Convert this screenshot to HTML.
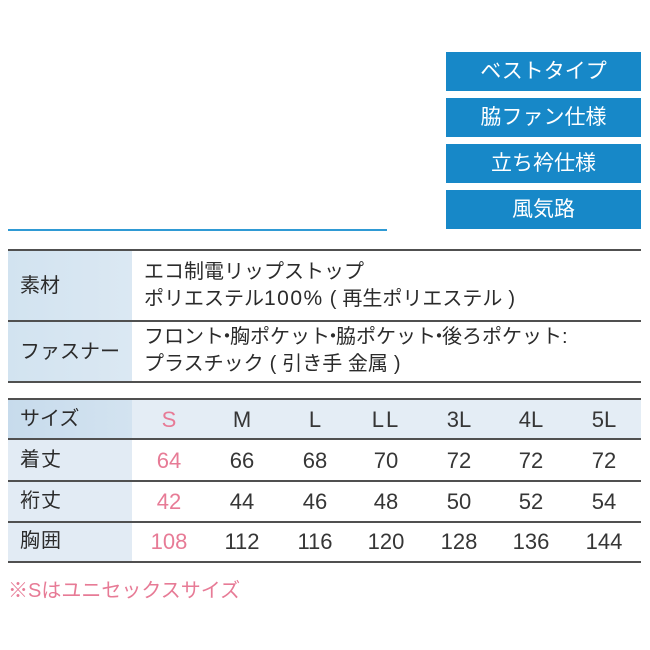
<!DOCTYPE html>
<html lang="ja">
<head>
<meta charset="utf-8">
<style>
  html,body{margin:0;padding:0;background:#fff;}
  body{width:650px;height:650px;position:relative;overflow:hidden;
    font-family:"Liberation Sans","Noto Sans CJK JP",sans-serif;color:#2b2b2b;}
  .abs{position:absolute;}
  .box{position:absolute;left:446px;width:195px;background:#1788c8;color:#fff;
    font-size:21px;text-align:center;line-height:39px;height:39px;}
  .hline{position:absolute;left:8px;width:633px;height:2px;background:#505050;}
  .lab{position:absolute;left:8px;width:124px;}
  .t{position:absolute;white-space:nowrap;font-size:20px;line-height:20px;}
  .c{position:absolute;width:72px;text-align:center;font-size:22px;line-height:22px;color:#363636;}
  .pink{color:#e77b96;}
  .hd{position:absolute;white-space:nowrap;font-size:20px;line-height:20px;left:20px;}
  .nd{margin:0 -7px;}
  .p{padding:0 6px;}
  .num{font-size:21px;letter-spacing:1.5px;}
</style>
</head>
<body>
  <!-- blue feature boxes -->
  <div class="box" style="top:52px;">ベストタイプ</div>
  <div class="box" style="top:98px;">脇ファン仕様</div>
  <div class="box" style="top:144px;">立ち衿仕様</div>
  <div class="box" style="top:190px;">風気路</div>

  <!-- blue rule -->
  <div class="abs" style="left:8px;top:229px;width:379px;height:2px;background:#2f9ad4;"></div>

  <!-- Table 1 -->
  <div class="lab" style="top:250px;height:132px;background:linear-gradient(90deg,#d2e3f0,#dbe8f3);"></div>
  <div class="hline" style="top:249px;"></div>
  <div class="hline" style="top:320px;"></div>
  <div class="hline" style="top:381px;"></div>

  <div class="hd" style="top:276px;">素材</div>
  <div class="t" style="left:144px;top:262px;">エコ制電リップストップ</div>
  <div class="t" style="left:144px;top:289px;">ポリエステル<span class="num">100%</span><span class="p">(</span>再生ポリエステル<span class="p">)</span></div>

  <div class="hd" style="top:342px;">ファスナー</div>
  <div class="t" style="left:144px;top:327px;">フロント<span class="nd">・</span>胸ポケット<span class="nd">・</span>脇ポケット<span class="nd">・</span>後ろポケット:</div>
  <div class="t" style="left:144px;top:354px;">プラスチック<span class="p">(</span>引き手 金属<span class="p">)</span></div>

  <!-- Table 2 -->
  <div class="abs" style="left:8px;top:399px;width:633px;height:40px;background:#e4edf5;"></div>
  <div class="lab" style="top:399px;height:40px;background:linear-gradient(90deg,#c7dbec,#d3e3f0);"></div>
  <div class="lab" style="top:439px;height:123px;background:#e2ebf4;"></div>
  <div class="hline" style="top:398px;"></div>
  <div class="hline" style="top:438px;"></div>
  <div class="hline" style="top:480px;"></div>
  <div class="hline" style="top:521px;"></div>
  <div class="hline" style="top:561px;"></div>

  <div class="hd" style="top:409px;">サイズ</div>
  <div class="hd" style="top:450px;letter-spacing:1px;">着丈</div>
  <div class="hd" style="top:491px;letter-spacing:1px;">裄丈</div>
  <div class="hd" style="top:531px;letter-spacing:1px;">胸囲</div>

  <!-- header row -->
  <div class="c pink" style="left:133px;top:409px;">S</div>
  <div class="c" style="left:206px;top:409px;">M</div>
  <div class="c" style="left:279px;top:409px;">L</div>
  <div class="c" style="left:350px;top:409px;letter-spacing:2px;">LL</div>
  <div class="c" style="left:423px;top:409px;">3L</div>
  <div class="c" style="left:495px;top:409px;">4L</div>
  <div class="c" style="left:568px;top:409px;">5L</div>

  <!-- 着丈 -->
  <div class="c pink" style="left:133px;top:450px;">64</div>
  <div class="c" style="left:206px;top:450px;">66</div>
  <div class="c" style="left:279px;top:450px;">68</div>
  <div class="c" style="left:350px;top:450px;">70</div>
  <div class="c" style="left:423px;top:450px;">72</div>
  <div class="c" style="left:495px;top:450px;">72</div>
  <div class="c" style="left:568px;top:450px;">72</div>

  <!-- 裄丈 -->
  <div class="c pink" style="left:133px;top:491px;">42</div>
  <div class="c" style="left:206px;top:491px;">44</div>
  <div class="c" style="left:279px;top:491px;">46</div>
  <div class="c" style="left:350px;top:491px;">48</div>
  <div class="c" style="left:423px;top:491px;">50</div>
  <div class="c" style="left:495px;top:491px;">52</div>
  <div class="c" style="left:568px;top:491px;">54</div>

  <!-- 胸囲 -->
  <div class="c pink" style="left:133px;top:531px;">108</div>
  <div class="c" style="left:206px;top:531px;">112</div>
  <div class="c" style="left:279px;top:531px;">116</div>
  <div class="c" style="left:350px;top:531px;">120</div>
  <div class="c" style="left:423px;top:531px;">128</div>
  <div class="c" style="left:495px;top:531px;">136</div>
  <div class="c" style="left:568px;top:531px;">144</div>

  <!-- footnote -->
  <div class="t pink" style="left:8px;top:581px;">※Sはユニセックスサイズ</div>
</body>
</html>
